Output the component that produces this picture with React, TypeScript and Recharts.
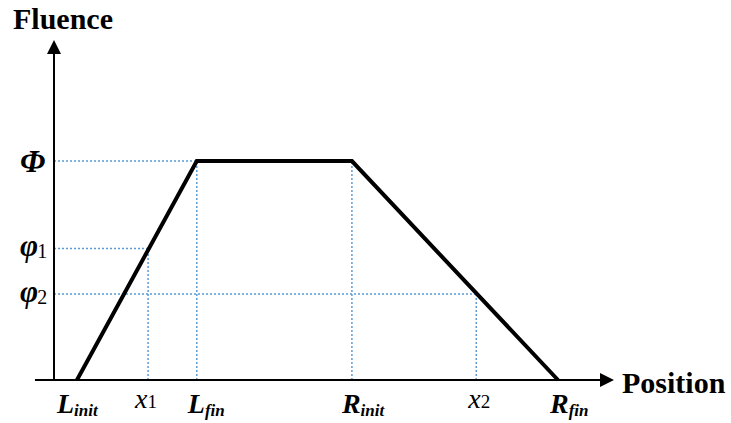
import { LineChart, Line, XAxis, YAxis, ReferenceLine } from 'recharts';

// beam positions (arbitrary units along the axis)
const L_INIT = 4.1;
const X1 = 16.8;
const L_FIN = 25.5;
const R_INIT = 53.2;
const X2 = 75.4;
const R_FIN = 90;

// fluence levels
const PHI = 64.4;
const PHI1 = 38.7;
const PHI2 = 25.3;

const positionTicks = [L_INIT, X1, L_FIN, R_INIT, X2, R_FIN];
const positionNames = ['L', 'x', 'L', 'R', 'x', 'R'];
const positionSubs = ['init', '1', 'fin', 'init', '2', 'fin'];

const fluenceTicks = [PHI2, PHI1, PHI];
const fluenceNames = ['\u03C6', '\u03C6', '\u03A6'];
const fluenceSubs = ['2', '1', ''];

const profile = [
  { pos: L_INIT, fluence: 0 },
  { pos: L_FIN, fluence: PHI },
  { pos: R_INIT, fluence: PHI },
  { pos: R_FIN, fluence: 0 },
];

// dotted guide lines: from the y axis to the point, and from the point down
const guides = [
  [0, PHI, L_FIN, PHI],
  [0, PHI1, X1, PHI1],
  [0, PHI2, X2, PHI2],
  [X1, 0, X1, PHI1],
  [L_FIN, 0, L_FIN, PHI],
  [R_INIT, 0, R_INIT, PHI],
  [X2, 0, X2, PHI2],
];

const SERIF = "'Liberation Serif', 'DejaVu Serif', serif";
const labelNudge = [-20, -13, -9, -10, -8, -8];

function Arrow(props: any) {
  const { x1, y1, x2, y2, title, tdx, tdy } = props;
  const a = Math.atan2(y2 - y1, x2 - x1);
  const len = 14;
  const half = 7;
  const bx = x2 - len * Math.cos(a);
  const by = y2 - len * Math.sin(a);
  const pts = [
    `${x2},${y2}`,
    `${bx + half * Math.sin(a)},${by - half * Math.cos(a)}`,
    `${bx - half * Math.sin(a)},${by + half * Math.cos(a)}`,
  ].join(' ');
  return (
    <g>
      <line x1={x1} y1={y1} x2={bx} y2={by} stroke="#000" strokeWidth={2} />
      <polygon points={pts} fill="#000" />
      <text x={x2 + tdx} y={y2 + tdy} fontFamily={SERIF} fontWeight={700} fontSize={30} fill="#000">
        {title}
      </text>
    </g>
  );
}

function PositionTick(props: any) {
  const { x, y, payload } = props;
  let i = positionTicks.indexOf(payload.value);
  if (i < 0) i = payload.index ?? 0;
  const isVar = positionNames[i] === 'x';
  return (
    <text x={x + labelNudge[i]} y={y + (isVar ? 28 : 33)} fontFamily={SERIF} fill="#000">
      <tspan fontSize={28} fontWeight={isVar ? 400 : 700} fontStyle="italic">
        {positionNames[i]}
      </tspan>
      <tspan
        fontSize={isVar ? 19 : 17}
        fontWeight={isVar ? 400 : 700}
        fontStyle={isVar ? 'normal' : 'italic'}
        dy={isVar ? 0 : 3}
      >
        {positionSubs[i]}
      </tspan>
    </text>
  );
}

function FluenceTick(props: any) {
  const { y, payload } = props;
  let i = fluenceTicks.indexOf(payload.value);
  if (i < 0) i = payload.index ?? 0;
  const big = fluenceSubs[i] === '';
  return (
    <text x={20} y={y + (big ? 11 : 8)} fontFamily={SERIF} fill="#000">
      <tspan fontSize={big ? 32 : 31} fontWeight={700} fontStyle="italic">
        {fluenceNames[i]}
      </tspan>
      <tspan fontSize={20} dx={-1} dy={2}>
        {fluenceSubs[i]}
      </tspan>
    </text>
  );
}

export default function App() {
  return (
    <div style={{ position: 'absolute', left: 0, top: 0, width: 731, height: 423, background: '#fff' }}>
      <LineChart width={731} height={423} data={profile} margin={{ top: 40, right: 117, bottom: 13, left: 6 }}>
        <XAxis
          dataKey="pos"
          type="number"
          domain={[-5, 100]}
          ticks={positionTicks}
          interval={0}
          axisLine={false}
          tickLine={false}
          tickSize={0}
          tickMargin={0}
          height={30}
          tick={<PositionTick />}
        />
        <YAxis
          type="number"
          domain={[0, 100]}
          ticks={fluenceTicks}
          interval={0}
          axisLine={false}
          tickLine={false}
          tickSize={0}
          tickMargin={0}
          width={20}
          tick={<FluenceTick />}
        />
        {guides.map((g, i) => (
          <ReferenceLine
            key={i}
            segment={[{ x: g[0], y: g[1] }, { x: g[2], y: g[3] }]}
            stroke="#5b9bd5"
            strokeWidth={1.5}
            strokeDasharray="2 2"
            ifOverflow="visible"
          />
        ))}
        <ReferenceLine
          segment={[{ x: -3.4, y: 0 }, { x: 100, y: 0 }]}
          ifOverflow="visible"
          shape={(p: any) => <Arrow {...p} title="Position" tdx={8} tdy={13} />}
        />
        <ReferenceLine
          segment={[{ x: 0, y: 0 }, { x: 0, y: 100 }]}
          ifOverflow="visible"
          shape={(p: any) => <Arrow {...p} title="Fluence" tdx={-41} tdy={-11} />}
        />
        <Line
          dataKey="fluence"
          type="linear"
          stroke="#000"
          strokeWidth={4}
          dot={false}
          isAnimationActive={false}
        />
      </LineChart>
    </div>
  );
}
